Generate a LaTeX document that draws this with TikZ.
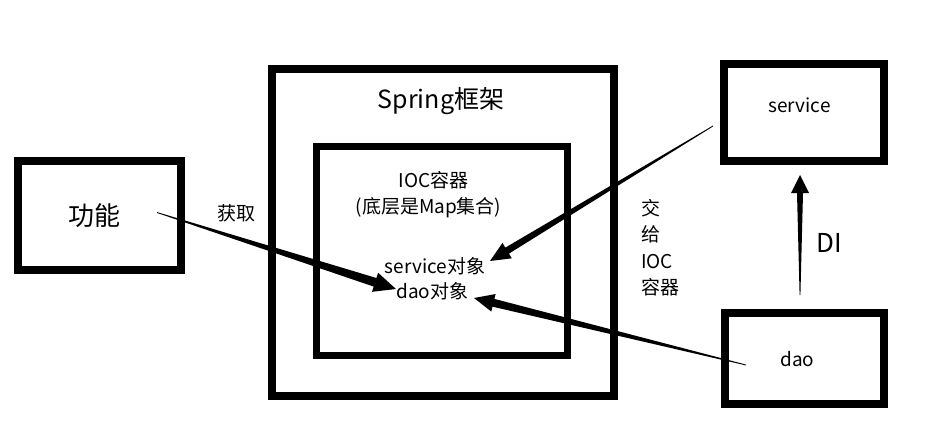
\documentclass[tikz,border=0pt]{standalone}
\usepackage{fontspec}
\setmainfont{Noto Sans CJK SC}
\usetikzlibrary{calc}
\newcommand\taperarrow[5]{%
  \coordinate (hb) at ($(#2)!#3!(#1)$);
  \fill[black] ($(#1)!0.4pt!90:(#2)$) -- ($(hb)!#5!90:(#2)$) -- ($(hb)!#4!90:(#2)$) -- (#2)
    -- ($(hb)!#4!-90:(#2)$) -- ($(hb)!#5!-90:(#2)$) -- ($(#1)!0.4pt!-90:(#2)$) -- cycle;}
\begin{document}
\begin{tikzpicture}[x=1pt,y=-1pt,
  box/.style={draw=black,line width=8pt,inner sep=0pt,rectangle},
  lbl/.style={inner sep=0pt,anchor=base,text=black,font=\fontsize{19}{22}\selectfont}]
\useasboundingbox[fill=white] (0,0) rectangle (936,422);
% boxes
\node[box,minimum width=163pt,minimum height=109pt] (gn) at (99.5,215.5) {};
\node[box,minimum width=342.5pt,minimum height=326.5pt] (spring) at (442.75,232.25) {};
\node[box,line width=7pt,minimum width=250.5pt,minimum height=209pt] (ioc) at (441.75,251) {};
\node[box,minimum width=160pt,minimum height=97pt] (svc) at (803.5,112.5) {};
\node[box,minimum width=159pt,minimum height=91.5pt] (dao) at (804,358.25) {};
% texts
\node[lbl,font=\fontsize{26}{30}\selectfont] (tgn) at (94,225) {功能};
\node[lbl,font=\fontsize{25}{30}\selectfont] (tspring) at (441,109) {Spring框架};
\node[lbl] (tioc) at (433.5,188) {IOC容器};
\node[lbl] (tmap) at (428.5,213) {(底层是Map集合)};
\node[lbl] (tsvcobj) at (435,273) {service对象};
\node[lbl] (tdaoobj) at (432.5,298) {dao对象};
\node[lbl] (thq) at (236,220) {获取};
\node[lbl,anchor=base west] (tj1) at (641,215) {交};
\node[lbl,anchor=base west] (tj2) at (641,241.5) {给};
\node[lbl,anchor=base west] (tj3) at (641,268) {IOC};
\node[lbl,anchor=base west] (tj4) at (641,294.5) {容器};
\node[lbl] (tsvc) at (799.5,113) {service};
\node[lbl] (tdao) at (797.5,366) {dao};
\node[lbl,font=\fontsize{26}{30}\selectfont] (tdi) at (829.5,252) {DI};
% arrow ends
\coordinate (a1s) at (157,212.5);
\coordinate (a1t) at (396,289);
\coordinate (a2s) at (713,126);
\coordinate (a2t) at (490,261);
\coordinate (a3s) at (746,365);
\coordinate (a3t) at (474,298);
\coordinate (a4s) at (800,295);
\coordinate (a4t) at (800,175);
\taperarrow{a1s}{a1t}{22pt}{10pt}{4.5pt}
\taperarrow{a2s}{a2t}{20pt}{9pt}{3.5pt}
\taperarrow{a3s}{a3t}{20pt}{9pt}{4pt}
\taperarrow{a4s}{a4t}{18pt}{9pt}{3pt}
\end{tikzpicture}
\end{document}
